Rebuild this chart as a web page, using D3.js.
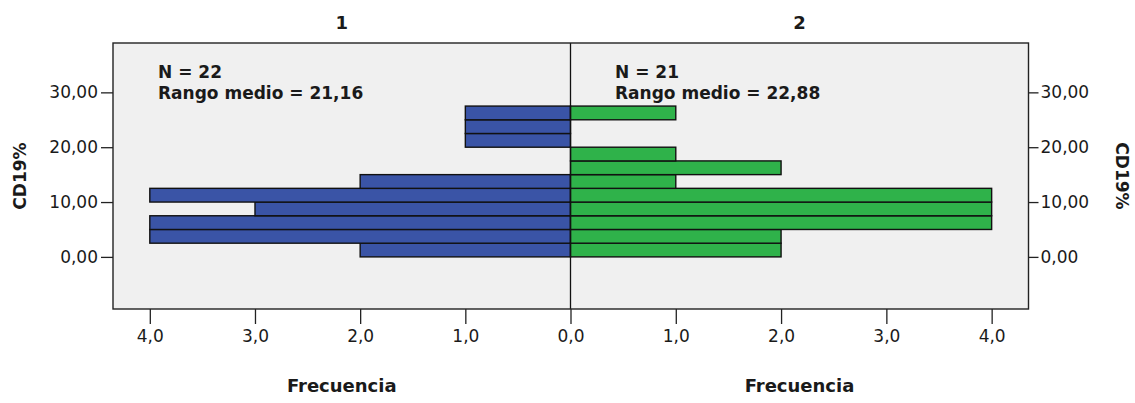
<!DOCTYPE html>
<html>
<head>
<meta charset="utf-8">
<script src="https://cdn.jsdelivr.net/npm/d3@7"></script>
<style>
  html, body { margin: 0; padding: 0; background: #fff; }
  svg { display: block; }
  text { font-family: "DejaVu Sans", sans-serif; fill: #1a1a1a; }
</style>
</head>
<body>
<svg id="chart" width="1135" height="403"></svg>
<script>
// ---- data ----
const binStarts = [0, 2.5, 5, 7.5, 10, 12.5, 15, 17.5, 20, 22.5, 25];
const binWidth = 2.5;
const group1Counts = [2, 4, 4, 3, 4, 2, 0, 0, 1, 1, 1];
const group2Counts = [2, 2, 4, 4, 4, 1, 2, 1, 0, 0, 1];
const groupLabels = ["1", "2"];
const groupN = ["N = 22", "N = 21"];
const groupRank = ["Rango medio = 21,16", "Rango medio = 22,88"];
const yTicks = [0, 10, 20, 30];
const xTicks = [0, 1, 2, 3, 4];
const yLabel = "CD19%";
const xLabel = "Frecuencia";

// ---- layout ----
const svg = d3.select("#chart");
const plotLeft = 113, plotRight = 1028.5, plotTop = 43, plotBottom = 309;
const center = 570.5;
const xMax = 4.35;

const loc = d3.formatLocale({ decimal: ",", thousands: ".", grouping: [3], currency: ["", "€"] });
const fmtX = loc.format(".1f");
const fmtY = loc.format(".2f");

const y = d3.scaleLinear().domain([-9.5, 39]).range([plotBottom, plotTop]);
const xL = d3.scaleLinear().domain([0, xMax]).range([center, plotLeft]);
const xR = d3.scaleLinear().domain([0, xMax]).range([center, plotRight]);

// background
svg.append("rect")
  .attr("x", plotLeft).attr("y", plotTop)
  .attr("width", plotRight - plotLeft).attr("height", plotBottom - plotTop)
  .attr("fill", "#f0f0f0");

const colors = ["#3a54a6", "#2fb24a"];
const groups = [
  { counts: group1Counts, x: xL, color: colors[0] },
  { counts: group2Counts, x: xR, color: colors[1] }
];

groups.forEach(g => {
  svg.append("g").selectAll("rect")
    .data(binStarts.map((b, i) => ({ b, c: g.counts[i] })).filter(d => d.c > 0))
    .join("rect")
    .attr("x", d => Math.min(g.x(0), g.x(d.c)))
    .attr("width", d => Math.abs(g.x(d.c) - g.x(0)))
    .attr("y", d => y(d.b + binWidth))
    .attr("height", d => y(d.b) - y(d.b + binWidth))
    .attr("fill", g.color)
    .attr("stroke", "#111")
    .attr("stroke-width", 1.4);
});

// center line
svg.append("line")
  .attr("x1", center).attr("x2", center)
  .attr("y1", plotTop).attr("y2", plotBottom)
  .attr("stroke", "#111").attr("stroke-width", 1.3);

// frame
svg.append("rect")
  .attr("x", plotLeft).attr("y", plotTop)
  .attr("width", plotRight - plotLeft).attr("height", plotBottom - plotTop)
  .attr("fill", "none").attr("stroke", "#222").attr("stroke-width", 1.4);

function styleAxis(sel) {
  sel.select(".domain").remove();
  sel.selectAll(".tick line").attr("stroke", "#222").attr("stroke-width", 1.3);
  sel.selectAll(".tick text")
    .attr("font-family", "DejaVu Sans, sans-serif")
    .attr("font-size", 17)
    .attr("fill", "#222");
}

// x axes
svg.append("g").attr("transform", `translate(0,${plotBottom})`)
  .call(d3.axisBottom(xL).tickValues(xTicks).tickFormat(fmtX).tickSize(15).tickPadding(6))
  .call(styleAxis);
svg.append("g").attr("transform", `translate(0,${plotBottom})`)
  .call(d3.axisBottom(xR).tickValues(xTicks.slice(1)).tickFormat(fmtX).tickSize(15).tickPadding(6))
  .call(styleAxis);

// y axes
svg.append("g").attr("transform", `translate(${plotLeft},0)`)
  .call(d3.axisLeft(y).tickValues(yTicks).tickFormat(fmtY).tickSize(12).tickPadding(3))
  .call(styleAxis);
svg.append("g").attr("transform", `translate(${plotRight},0)`)
  .call(d3.axisRight(y).tickValues(yTicks).tickFormat(fmtY).tickSize(10).tickPadding(2))
  .call(styleAxis);

// group titles
const halfCenters = [(plotLeft + center) / 2, (center + plotRight) / 2];
groupLabels.forEach((t, i) => {
  svg.append("text")
    .attr("x", halfCenters[i]).attr("y", 29)
    .attr("text-anchor", "middle")
    .attr("font-size", 18).attr("font-weight", "bold")
    .text(t);
  svg.append("text")
    .attr("x", halfCenters[i]).attr("y", 392)
    .attr("text-anchor", "middle")
    .attr("font-size", 18).attr("font-weight", "bold")
    .text(xLabel);
});

// annotations
const annX = [158, 615];
annX.forEach((ax, i) => {
  svg.append("text").attr("x", ax).attr("y", 78)
    .attr("font-size", 17).attr("font-weight", "bold").text(groupN[i]);
  svg.append("text").attr("x", ax).attr("y", 99)
    .attr("font-size", 17).attr("font-weight", "bold").text(groupRank[i]);
});

// y labels
const yMid = (plotTop + plotBottom) / 2;
svg.append("text")
  .attr("transform", `translate(26,${yMid}) rotate(-90)`)
  .attr("text-anchor", "middle")
  .attr("font-size", 17).attr("font-weight", "bold")
  .text(yLabel);
svg.append("text")
  .attr("transform", `translate(1116,${yMid}) rotate(90)`)
  .attr("text-anchor", "middle")
  .attr("font-size", 17).attr("font-weight", "bold")
  .text(yLabel);
</script>
</body>
</html>
